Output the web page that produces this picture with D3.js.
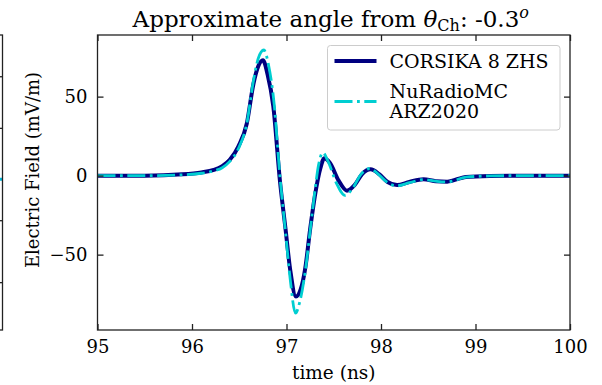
<!DOCTYPE html>
<html>
<head>
<meta charset="utf-8">
<script src="https://cdn.jsdelivr.net/npm/d3@7"></script>
<style>
body { margin: 0; background: #fff; }
svg text { font-family: "DejaVu Serif", serif; fill: #000; }
</style>
</head>
<body>
<div id="chart"></div>
<script>
var width = 602;
var height = 385;
var margin = {top: 35, right: 32, bottom: 55, left: 97.5};

// CORSIKA 8 ZHS trace (time in ns, field in mV/m)
var zhsTime = [95.0, 95.5, 95.9, 96.1, 96.23, 96.32, 96.40, 96.49, 96.58, 96.65, 96.70, 96.75, 96.80, 96.86,
	96.93, 96.99, 97.04, 97.10, 97.15, 97.20, 97.25, 97.30, 97.36, 97.40, 97.46, 97.55, 97.64, 97.72,
	97.80, 97.89, 97.98, 98.07, 98.17, 98.30, 98.45, 98.58, 98.70, 98.90, 99.15, 99.5, 100.0];
var zhsField = [0, 0, 0.8, 2, 3.6, 6, 10, 18.4, 33, 58, 69, 73, 64, 44,
	-3, -34, -60, -76.5, -72, -58, -34, -13, 5, 11, 8, -3, -9.5, -6,
	1, 4, 1, -4, -6, -4, -2.3, -3.5, -3.8, -0.8, -0.2, 0, 0];

// NuRadioMC ARZ2020 trace
var arzTime = [95.0, 95.5, 95.9, 96.1, 96.23, 96.32, 96.40, 96.49, 96.58, 96.65, 96.70, 96.76, 96.81, 96.87,
	96.93, 96.99, 97.04, 97.095, 97.14, 97.20, 97.25, 97.30, 97.34, 97.385, 97.44, 97.53, 97.62, 97.70,
	97.79, 97.88, 97.97, 98.06, 98.16, 98.30, 98.45, 98.58, 98.70, 98.90, 99.15, 99.5, 100.0];
var arzField = [0, 0, 0.5, 1.5, 3, 5, 9, 17, 33, 60, 74, 79.5, 70, 45,
	0, -36, -66, -87, -80, -60, -35, -10, 7, 14.5, 9, -5, -12.5, -8,
	1, 4.5, 1, -4, -6.5, -4.5, -2.5, -3.5, -4, -1, -0.2, 0, 0];

var xTicks = [95, 96, 97, 98, 99, 100];
var yTicks = [-50, 0, 50];
var seriesNames = ["CORSIKA 8 ZHS", ["NuRadioMC", "ARZ2020"]];

// edge of the neighbouring panel that is cut off on the left
var leftPanelTicks = [71.7, 36.7, -25.9, -67.9];
var leftPanelLastValue = 2.2;

var svg = d3.select("#chart").append("svg")
	.attr("width", width)
	.attr("height", height);

var plotW = width - margin.left - margin.right;
var plotH = height - margin.top - margin.bottom;

var x = d3.scaleLinear().domain([95, 100]).range([0, plotW]);
var y = d3.scaleLinear().domain([-97.7, 89]).range([plotH, 0]);

// --- neighbouring panel, only its right edge shows
var lp = svg.append('g').attr('transform', 'translate(2.5,' + margin.top + ')');
var ly = d3.scaleLinear().domain([-100, 100]).range([plotH, 0]);
lp.append('line')
	.attr('x1', -10).attr('x2', 0)
	.attr('y1', ly(leftPanelLastValue)).attr('y2', ly(leftPanelLastValue))
	.attr('stroke', '#00b5d8').attr('stroke-width', 3);
lp.selectAll('.lt').data(leftPanelTicks).enter().append('line')
	.attr('x1', -6).attr('x2', 0)
	.attr('y1', function(d) { return ly(d); })
	.attr('y2', function(d) { return ly(d); })
	.attr('stroke', '#222').attr('stroke-width', 1.3);
lp.append('rect')
	.attr('x', -20).attr('y', 0).attr('width', 20).attr('height', plotH)
	.attr('fill', 'none').attr('stroke', '#222').attr('stroke-width', 1.3);

var g = svg.append('g')
	.attr('transform', 'translate(' + margin.left + ',' + margin.top + ')');

g.append('clipPath').attr('id', 'clip')
	.append('rect').attr('width', plotW).attr('height', plotH);

var line = d3.line()
	.x(function(d) { return x(d[0]); })
	.y(function(d) { return y(d[1]); })
	.curve(d3.curveMonotoneX);

var plot = g.append('g').attr('clip-path', 'url(#clip)');

plot.append('path')
	.datum(d3.zip(zhsTime, zhsField))
	.attr('d', line)
	.attr('fill', 'none')
	.attr('stroke', 'navy')
	.attr('stroke-width', 4)
	.attr('stroke-linejoin', 'round');

plot.append('path')
	.datum(d3.zip(arzTime, arzField))
	.attr('d', line)
	.attr('fill', 'none')
	.attr('stroke', 'darkturquoise')
	.attr('stroke-width', 2.8)
	.attr('stroke-dasharray', '18,4.5,2.8,4.5');

// axes, ticks pointing inwards on all four sides
var tickLen = 6;
var fmt = function(d) { return d < 0 ? "\u2212" + Math.abs(d) : d; };

var xAxis = g.append('g').attr('transform', 'translate(0,' + plotH + ')')
	.call(d3.axisBottom(x).tickValues(xTicks).tickSize(-tickLen).tickPadding(tickLen + 4).tickFormat(fmt));
var xTop = g.append('g')
	.call(d3.axisTop(x).tickValues(xTicks).tickSize(-tickLen).tickFormat(''));
var yAxis = g.append('g')
	.call(d3.axisLeft(y).tickValues(yTicks).tickSize(-tickLen).tickPadding(tickLen + 4).tickFormat(fmt));
var yRight = g.append('g').attr('transform', 'translate(' + plotW + ',0)')
	.call(d3.axisRight(y).tickValues(yTicks).tickSize(-tickLen).tickFormat(''));

[xAxis, xTop, yAxis, yRight].forEach(function(a) {
	a.select('.domain').remove();
	a.selectAll('line').attr('stroke', '#222').attr('stroke-width', 1.3);
	a.selectAll('text').style('font-family', '"DejaVu Serif", serif').style('font-size', '18px').attr('fill', '#000');
});

g.append('rect')
	.attr('width', plotW).attr('height', plotH)
	.attr('fill', 'none').attr('stroke', '#222').attr('stroke-width', 1.3);

// labels
svg.append('text')
	.attr('x', margin.left + plotW / 2)
	.attr('y', 379)
	.attr('text-anchor', 'middle')
	.style('font-size', '18.5px')
	.text('time (ns)');

svg.append('text')
	.attr('transform', 'translate(39,170) rotate(-90)')
	.attr('text-anchor', 'middle')
	.style('font-size', '18px')
	.text('Electric Field (mV/m)');

var title = svg.append('text')
	.attr('x', margin.left + plotW / 2 - 3)
	.attr('y', 27)
	.attr('text-anchor', 'middle')
	.style('font-size', '23px');
title.append('tspan').text('Approximate angle from ');
title.append('tspan').style('font-style', 'italic').text('\u03b8');
title.append('tspan').attr('dy', 4).style('font-size', '16px').text('Ch');
title.append('tspan').attr('dy', -4).text(': -0.3');
title.append('tspan').attr('dy', -9).style('font-size', '16px').style('font-style', 'italic').text('o');

// legend
var leg = svg.append('g').attr('transform', 'translate(327.5,45.5)');
leg.append('rect')
	.attr('width', 232.5).attr('height', 84.5)
	.attr('rx', 3)
	.attr('fill', 'white').attr('fill-opacity', 0.8)
	.attr('stroke', '#ccc').attr('stroke-width', 1);

leg.append('line')
	.attr('x1', 7).attr('x2', 49).attr('y1', 15.5).attr('y2', 15.5)
	.attr('stroke', 'navy').attr('stroke-width', 4);
leg.append('text').attr('x', 62).attr('y', 22)
	.style('font-size', '19px').text(seriesNames[0]);

leg.append('line')
	.attr('x1', 7).attr('x2', 49).attr('y1', 56).attr('y2', 56)
	.attr('stroke', 'darkturquoise').attr('stroke-width', 2.8)
	.attr('stroke-dasharray', '18,4.5,2.8,4.5');
leg.selectAll('.l2').data(seriesNames[1]).enter().append('text')
	.attr('x', 62)
	.attr('y', function(d, i) { return 52.8 + i * 20; })
	.style('font-size', '19px')
	.text(function(d) { return d; });
</script>
</body>
</html>
